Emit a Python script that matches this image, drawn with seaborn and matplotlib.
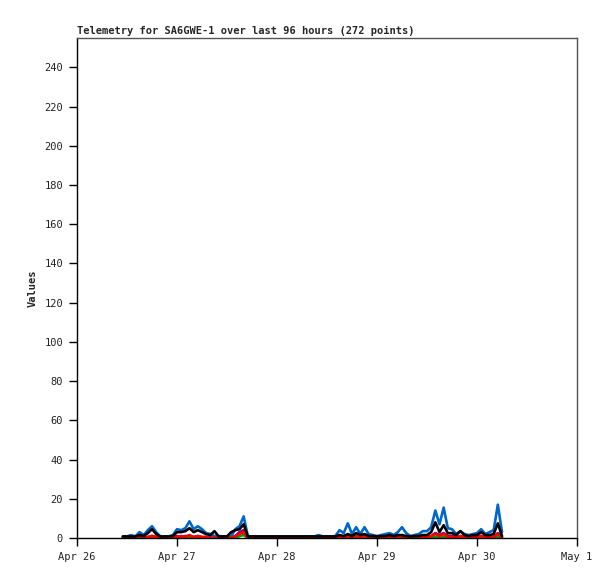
import numpy as np
import pandas as pd
import matplotlib
matplotlib.use("Agg")
import matplotlib.pyplot as plt
import seaborn as sns

# hours since Apr 26 00:00 (hourly samples)
hours = list(range(11, 103))

blue = [0.8, 0.8, 1.5, 0.8, 3, 1.5, 4, 6, 3, 0.8,
        0.8, 0.8, 1.5, 4.5, 4, 5, 8.5, 4.5, 6, 4.5,
        2.5, 2, 1, 1, 0.8, 0.8, 0.8, 4.5, 6, 11,
        1, 0.8, 0.8, 0.8, 0.8, 0.8, 0.8, 0.8, 0.8, 0.8,
        0.8, 0.8, 0.8, 0.8, 0.8, 0.8, 0.8, 1.5, 0.8, 0.8,
        0.8, 1, 4, 2.5, 7.5, 2, 5.5, 2, 5.5, 2,
        1.5, 1, 1.5, 2, 2.5, 1.5, 3, 5.5, 2.5, 1,
        1.5, 2, 3.5, 3.5, 5.5, 14, 7, 15.5, 5, 4.5,
        2, 3.5, 2, 1.5, 2, 2.5, 4.5, 2, 3, 4,
        17, 3]

black = [0.8, 0.8, 0.8, 0.8, 1.5, 1, 2.5, 4.5, 2, 0.8,
         0.8, 0.8, 1, 3, 3, 3.5, 5, 3, 4, 3,
         2, 1.5, 3.5, 0.8, 0.8, 0.8, 3, 4, 4.5, 7,
         0.8, 0.8, 0.8, 0.8, 0.8, 0.8, 0.8, 0.8, 0.8, 0.8,
         0.8, 0.8, 0.8, 0.8, 0.8, 0.8, 0.8, 0.8, 0.8, 0.8,
         0.8, 0.8, 1.5, 1, 2, 1, 2.5, 1.5, 2, 1,
         1, 0.8, 1, 1, 1.5, 1, 1.5, 1.5, 1, 0.8,
         1, 1, 1.5, 1.5, 3, 8, 3, 6.5, 2.5, 2.5,
         1.5, 3.5, 1.5, 1, 1.5, 1.5, 3, 1.5, 1.5, 2,
         7.5, 1]

green = [0, 0, 0, 0, 0, 0, 0, 1, 0, 0,
         0, 0, 0, 0, 0, 0.5, 0.5, 0, 0.5, 0,
         0, 0, 0, 0, 0, 0, 0, 0, 1, 1.5,
         0, 0, 0, 0, 0, 0, 0, 0, 0, 0,
         0, 0, 0, 0, 0, 0, 0, 0, 0, 0,
         0, 0, 0, 0, 0, 0, 0, 0, 0, 0,
         0, 0, 0, 0, 0, 0, 0, 0, 0, 0,
         0, 0, 0, 0, 0, 0.5, 0, 0.5, 0, 0,
         0, 0, 0, 0, 0, 0, 0, 0, 0, 0,
         0.5, 0]

red = [0, 0, 0, 0, 0, 0, 0.5, 1, 0.5, 0,
       0, 0, 0, 0.5, 1, 0.5, 1.5, 0.5, 1, 0.5,
       0.5, 0, 0, 0, 0, 0, 0, 1, 2, 3,
       0, 0, 0, 0, 0, 0, 0, 0, 0, 0,
       0, 0, 0, 0, 0, 0, 0, 0, 0, 0,
       0, 0, 0.5, 0, 1, 0.5, 1, 0.5, 1, 0.5,
       0, 0, 0, 0.5, 0.5, 0, 0.5, 1, 0.5, 0,
       0, 0.5, 0.5, 0.5, 1, 2, 1, 2, 0.5, 0.5,
       0, 1, 0.5, 0, 0.5, 0.5, 1, 0.5, 0.5, 0.5,
       2, 0.5]

purple = [0.3, 0, 0.3, 0, 0.5, 0.3, 0.5, 1, 0.5, 0,
          0.3, 0, 0.3, 1, 0.5, 1, 1, 0.5, 1, 0.5,
          0.5, 0.3, 0, 0.3, 0, 0.3, 0, 1, 3, 4,
          0.3, 0, 0.3, 0, 0.3, 0, 0.3, 0, 0.3, 0,
          0.3, 0, 0.3, 0, 0.3, 0, 0.3, 0, 0.3, 0,
          0.3, 0, 0.5, 0.5, 1.5, 0.5, 1.5, 0.5, 1.5, 0.5,
          0.3, 0.3, 0.5, 0.3, 0.5, 0.3, 0.5, 1, 0.5, 0.3,
          0.3, 0.5, 0.5, 0.5, 1, 2.5, 1.5, 2.5, 1, 1,
          0.5, 1, 0.5, 0.5, 0.5, 1, 1, 0.5, 0.5, 0.5,
          2.5, 0.5]

series_names = ["blue", "purple", "green", "red", "black"]
series_colors = ["#0066cc", "#800080", "#00a000", "#ff0000", "#000000"]
series_values = [blue, purple, green, red, black]

day_ticks = ["2024-04-26", "2024-04-27", "2024-04-28", "2024-04-29", "2024-04-30", "2024-05-01"]
day_labels = ["Apr 26", "Apr 27", "Apr 28", "Apr 29", "Apr 30", "May 1"]
y_ticks = list(range(0, 241, 20))

title = "Telemetry for SA6GWE-1 over last 96 hours (272 points)"

base = pd.Timestamp("2024-04-26")
times = [base + pd.Timedelta(hours=h) for h in hours]
frames = []
for name, vals in zip(series_names, series_values):
    frames.append(pd.DataFrame({"time": times, "value": vals, "series": name}))
df = pd.concat(frames, ignore_index=True)

sns.set_style("white")
plt.rcParams["font.family"] = ["DejaVu Sans Mono", "DejaVu Sans"]

fig = plt.figure(figsize=(6.15, 5.79), dpi=100)
ax = fig.add_axes([77 / 615, 1 - 538 / 579, 500 / 615, 500 / 579])

sns.lineplot(data=df, x="time", y="value", hue="series", hue_order=series_names,
             palette=dict(zip(series_names, series_colors)), linewidth=1.9,
             ax=ax, legend=False, estimator=None)

ax.set_xlim(pd.Timestamp(day_ticks[0]), pd.Timestamp(day_ticks[-1]))
ax.set_ylim(0, 255)
ax.set_xticks([pd.Timestamp(d) for d in day_ticks])
ax.set_xticklabels(day_labels)
ax.set_yticks(y_ticks)
ax.set_yticklabels([str(v) for v in y_ticks])

ax.tick_params(axis="both", which="major", direction="out", length=6, width=1,
               color="black", labelsize=7.5, labelcolor="#222222", pad=4,
               bottom=True, left=True)
ax.tick_params(axis="x", pad=4)
for s in ax.spines.values():
    s.set_color("#555555")
    s.set_linewidth(1)
ax.spines["bottom"].set_color("black")
ax.spines["left"].set_color("black")

ax.set_xlabel("")
ax.set_ylabel("Values", fontsize=7.5, fontweight="bold", labelpad=5)
ax.set_title(title, loc="left", fontsize=7.5, fontweight="bold", pad=3)

fig.savefig("out.png", dpi=100)
